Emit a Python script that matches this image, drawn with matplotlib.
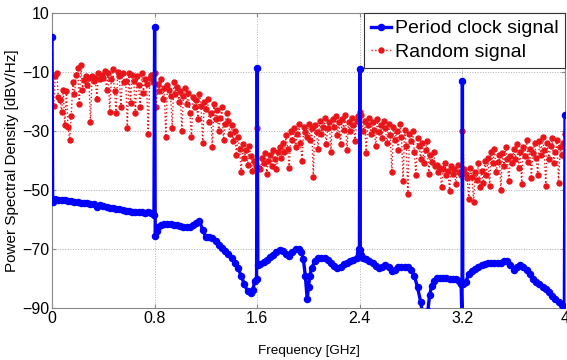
import matplotlib
matplotlib.use('Agg')
import matplotlib.pyplot as plt
import numpy as np

plt.rcParams['font.family'] = ['Liberation Sans', 'DejaVu Sans']

# periodic clock PSD, sampled densely around the harmonics
clock_freq = [0.0, 0.005, 0.025, 0.05, 0.075, 0.1, 0.125, 0.15, 0.175, 0.2,
              0.225, 0.25, 0.275, 0.3, 0.325, 0.35, 0.375, 0.4, 0.425, 0.45,
              0.475, 0.5, 0.525, 0.55, 0.575, 0.6, 0.625, 0.65, 0.675, 0.7,
              0.725, 0.75, 0.775, 0.795, 0.8, 0.805, 0.815, 0.825, 0.85, 0.875,
              0.9, 0.925, 0.95, 0.975, 1.0, 1.025, 1.05, 1.075, 1.1, 1.125,
              1.15, 1.175, 1.2, 1.225, 1.25, 1.275, 1.3, 1.325, 1.35, 1.375,
              1.4, 1.425, 1.45, 1.475, 1.5, 1.525, 1.55, 1.565, 1.58, 1.595,
              1.6, 1.605, 1.625, 1.65, 1.675, 1.7, 1.725, 1.75, 1.775, 1.8,
              1.825, 1.85, 1.875, 1.9, 1.925, 1.945, 1.96, 1.975, 1.99, 2.0,
              2.01, 2.025, 2.05, 2.075, 2.1, 2.125, 2.15, 2.175, 2.2, 2.225,
              2.25, 2.275, 2.3, 2.325, 2.35, 2.375, 2.39, 2.397, 2.4, 2.403,
              2.41, 2.425, 2.45, 2.475, 2.5, 2.525, 2.55, 2.575, 2.6, 2.625,
              2.65, 2.675, 2.7, 2.725, 2.75, 2.775, 2.8, 2.825, 2.85, 2.875,
              2.89, 2.91, 2.93, 2.945, 2.96, 2.975, 3.0, 3.025, 3.05, 3.075,
              3.1, 3.125, 3.15, 3.175, 3.19, 3.197, 3.2, 3.203, 3.225, 3.25,
              3.275, 3.3, 3.325, 3.35, 3.375, 3.4, 3.425, 3.45, 3.475, 3.5,
              3.525, 3.55, 3.575, 3.6, 3.625, 3.65, 3.675, 3.7, 3.725, 3.75,
              3.775, 3.8, 3.825, 3.85, 3.875, 3.9, 3.925, 3.95, 3.975, 3.995,
              4.0]
clock_psd = [2.0, -54.0, -53.2, -53.3, -53.4, -53.5, -53.7, -53.8, -54.0, -54.1,
             -54.3, -54.4, -54.5, -54.6, -54.9, -55.6, -55.0, -55.4, -55.8, -56.0,
             -56.2, -56.4, -56.6, -56.8, -57.0, -57.2, -57.3, -57.5, -57.6, -57.6,
             -57.7, -57.6, -57.8, -58.4, 5.3, -65.5, -64.0, -62.5, -61.8, -61.6,
             -61.6, -61.6, -61.7, -62.0, -62.3, -62.6, -62.7, -62.4, -61.8, -61.3,
             -60.5, -63.5, -66.0, -66.0, -66.3, -67.2, -68.5, -69.6, -70.6, -71.8,
             -73.0, -74.6, -76.5, -79.0, -82.0, -84.3, -85.0, -84.0, -81.0, -80.0,
             -8.6, -75.5, -75.0, -74.4, -73.7, -72.8, -72.0, -71.0, -70.3, -70.6,
             -71.6, -72.3, -71.0, -70.0, -70.0, -71.0, -73.5, -79.0, -87.0, -83.0,
             -79.0, -76.4, -74.0, -73.0, -73.0, -73.2, -73.6, -74.6, -75.8, -76.5,
             -76.0, -75.2, -74.6, -74.0, -73.6, -73.0, -71.5, -70.0, -9.0, -70.5,
             -72.0, -73.0, -73.5, -74.0, -74.6, -75.6, -76.4, -76.0, -75.4, -76.2,
             -77.4, -77.2, -76.2, -76.0, -76.0, -76.2, -77.0, -79.0, -83.0, -88.0,
             -92.0, -96.0, -91.0, -85.5, -82.5, -80.8, -79.8, -79.7, -79.8, -79.9,
             -80.0, -80.1, -80.3, -81.0, -82.0, -95.0, -13.0, -82.0, -81.3, -78.5,
             -77.3, -76.7, -76.0, -75.3, -75.0, -74.7, -74.6, -74.7, -74.8, -74.6,
             -74.2, -74.0, -75.5, -77.0, -76.0, -75.5, -76.0, -77.0, -78.5, -80.3,
             -81.2, -82.0, -82.8, -83.6, -84.7, -85.8, -86.8, -87.8, -89.0, -90.0,
             -24.6]

# random signal PSD, one row per 0.2 GHz (bin width 12.5 MHz)
random_psd = [
    2.0, -21.5, -11.5, -10.5, -18.5, -19.5, -23.5, -16.0, -28.0, -16.5, -28.5, -33.0, -25.0, -13.5, -17.5, -11.0,
    -8.5, -21.0, -7.6, -16.0, -12.8, -11.5, -14.5, -12.0, -27.0, -11.5, -13.0, -12.0, -19.0, -10.5, -12.5, -11.0,
    -12.0, -9.5, -16.0, -10.5, -23.5, -12.5, -9.0, -16.5, -24.0, -10.0, -11.5, -22.0, -10.5, -13.5, -13.0, -29.0,
    -10.5, -20.5, -11.0, -13.0, -24.0, -11.5, -14.5, -22.0, -10.5, -17.0, -12.5, -14.0, -31.0, -12.0, -11.0, -13.5,
    -10.5, -22.0, -14.0, -16.5, -12.5, -19.0, -15.5, -32.0, -14.5, -16.0, -18.0, -29.0, -13.5, -17.5, -15.0, -20.0,
    -16.5, -30.0, -18.0, -15.5, -21.0, -17.0, -24.0, -32.0, -18.5, -22.0, -19.5, -26.0, -17.5, -21.5, -34.0, -20.0,
    -22.5, -19.0, -27.0, -24.0, -35.5, -21.0, -26.0, -23.0, -30.0, -25.5, -22.0, -33.0, -27.5, -24.0, -26.5, -31.0,
    -28.0, -33.5, -30.0, -38.0, -32.0, -36.0, -44.0, -34.5, -39.0, -36.5, -41.5, -35.0, -38.5, -43.5, -40.0, -42.0,
    -29.0, -42.5, -43.0, -39.0, -41.0, -37.5, -44.5, -40.0, -38.0, -42.0, -36.5, -39.5, -43.0, -37.0, -35.5, -39.0,
    -34.0, -37.0, -31.5, -36.0, -42.5, -30.0, -33.0, -29.0, -35.5, -31.0, -27.5, -34.0, -40.0, -28.5, -30.5, -32.0,
    -27.5, -33.0, -29.0, -45.5, -28.0, -30.5, -36.0, -26.5, -31.0, -28.5, -25.5, -34.5, -29.0, -27.0, -37.0, -26.0,
    -28.5, -25.0, -31.5, -27.0, -34.5, -26.0, -29.5, -24.5, -36.5, -27.0, -30.0, -25.5, -28.0, -33.5, -26.5, -25.0,
    -23.6, -24.5, -30.0, -26.5, -37.5, -28.0, -25.5, -31.0, -27.0, -29.5, -35.0, -26.0, -30.5, -28.0, -32.5, -26.5,
    -29.0, -34.0, -27.5, -31.5, -44.0, -28.5, -33.0, -30.0, -36.5, -27.5, -32.0, -47.0, -29.5, -35.0, -51.5, -31.0,
    -33.5, -30.0, -37.0, -45.0, -32.5, -35.0, -39.5, -34.0, -41.0, -36.5, -33.5, -44.5, -38.0, -40.5, -37.0, -42.0,
    -41.5, -44.0, -42.5, -49.0, -43.0, -41.0, -45.0, -43.5, -50.5, -42.0, -44.5, -43.0, -48.0, -41.5, -44.0, -45.0,
    -30.0, -43.0, -44.5, -46.0, -53.0, -42.5, -45.5, -54.0, -44.0, -46.5, -41.0, -49.0, -43.5, -47.5, -40.0, -45.0,
    -39.0, -48.5, -37.0, -41.0, -36.0, -44.0, -40.5, -38.0, -50.0, -37.5, -42.0, -35.5, -39.5, -47.0, -38.5, -41.0,
    -36.0, -39.5, -34.5, -42.5, -37.0, -48.0, -35.5, -38.5, -33.0, -40.5, -36.0, -46.0, -37.5, -34.0, -39.0, -45.0,
    -33.5, -38.0, -32.0, -36.5, -48.5, -34.0, -39.5, -35.0, -32.5, -41.0, -37.0, -33.0, -47.5, -35.5, -38.0, -34.0,
    -31.0]
random_freq = np.linspace(0, 4, len(random_psd))

xticks = [0, 0.8, 1.6, 2.4, 3.2, 4]
xticklabels = ['0', '0.8', '1.6', '2.4', '3.2', '4']
yticks = [-90, -70, -50, -30, -10, 10]

fig = plt.figure(figsize=(5.67, 3.6), dpi=100)
ax = fig.add_axes([52 / 567, 52 / 360, 513 / 567, 295 / 360])

ax.plot(clock_freq, clock_psd, '-o', color='#0000ff', lw=2.4, ms=4.4,
        mec='#0000ff', label='Period clock signal', zorder=3)
ax.plot(random_freq, random_psd, ':o', color='#e8161a', lw=1.0, ms=3.6,
        mec='#e8161a', label='Random signal', zorder=2)

ax.set_xlim(0, 4)
ax.set_ylim(-90, 10)
ax.set_xticks(xticks)
ax.set_xticklabels(xticklabels)
ax.set_yticks(yticks)
ax.tick_params(direction='in', length=3, labelsize=11.5, color='#888888',
               top=True, right=True, pad=2)
ax.grid(True, ls=':', lw=0.7, color='#b0b0b0')
for s in ax.spines.values():
    s.set_color('#888888')
    s.set_linewidth(0.8)

ax.set_xlabel('Frequency [GHz]', fontsize=9.7, labelpad=14)
ax.set_ylabel('Power Spectral Density [dBV/Hz]', fontsize=11, labelpad=2)

leg = ax.legend(loc='upper right', fontsize=14, fancybox=False, framealpha=1,
                edgecolor='#333333', borderaxespad=0, borderpad=0.35,
                handlelength=1.0, handletextpad=0.2, labelspacing=0.3)
leg.get_frame().set_linewidth(0.8)

fig.savefig('out.png', dpi=100)
